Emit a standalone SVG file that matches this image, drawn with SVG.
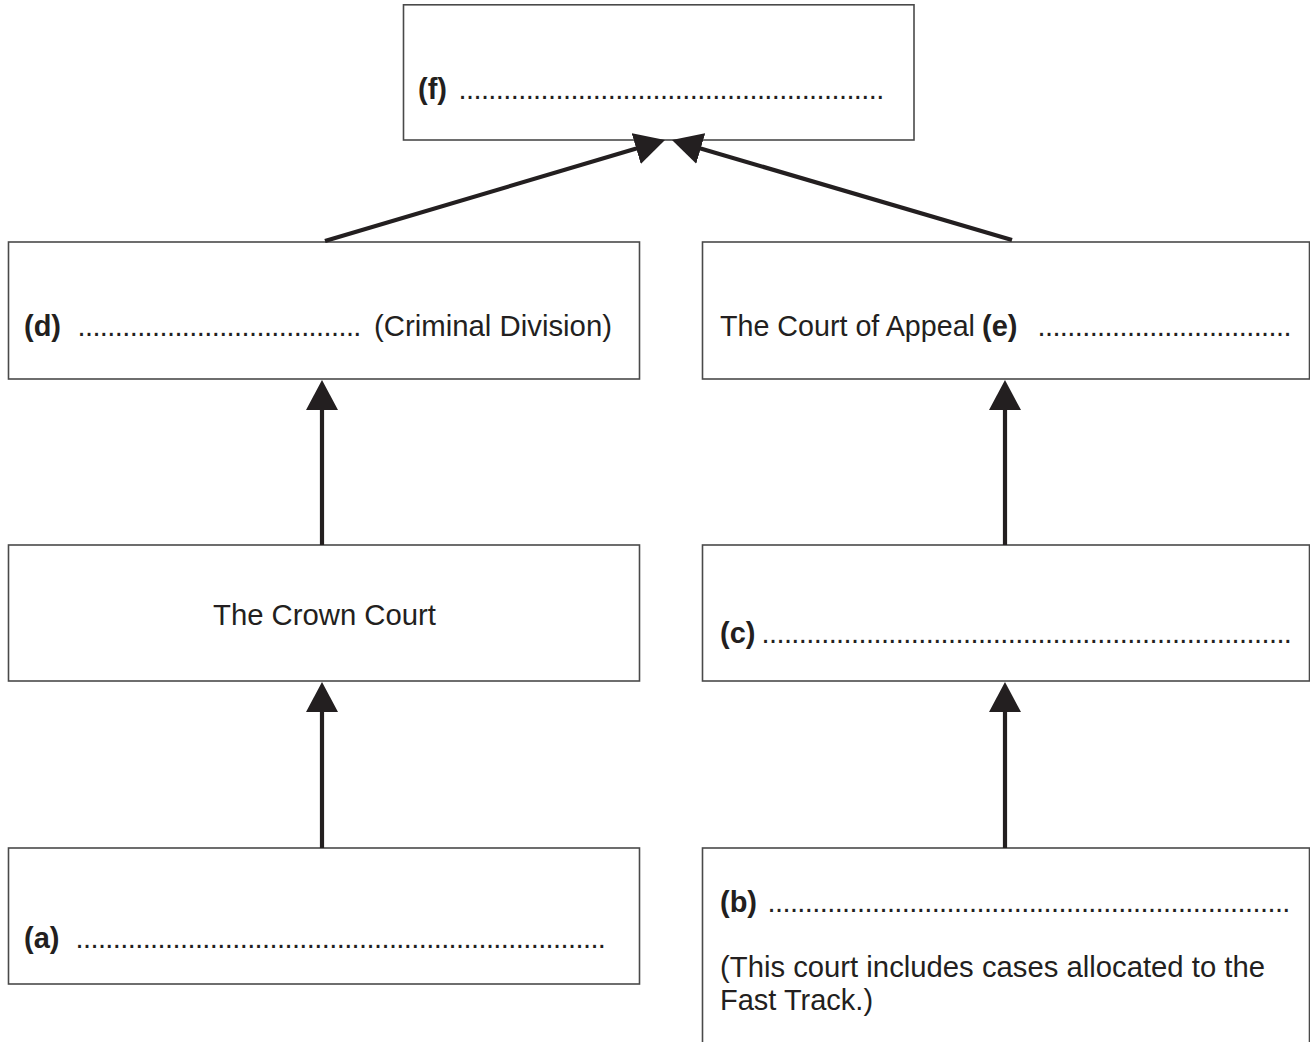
<svg xmlns="http://www.w3.org/2000/svg" width="1310" height="1042" viewBox="0 0 1310 1042">
<style>
.box{fill:#fff;stroke:#4a4a4a;stroke-width:1.6}
.t{font-family:"Liberation Sans",Arial,sans-serif;font-size:29px;fill:#231f20}
.b{font-weight:bold}
.d{font-family:"Liberation Sans",Arial,sans-serif;font-size:29px;fill:#231f20}
.arr{stroke:#231f20;stroke-width:4.2;fill:none;marker-end:url(#head)}
</style>
<defs>
<marker id="head" markerUnits="userSpaceOnUse" viewBox="0 0 30 32" refX="1" refY="16" markerWidth="30" markerHeight="32" orient="auto">
<path d="M0,0 L30,16 L0,32 Z" fill="#231f20"/>
</marker>
</defs>
<rect width="1310" height="1042" fill="#fff"/>
<g id="node-f">
<rect class="box" x="403.5" y="4.8" width="510.5" height="135.2"/>
<text class="t b" x="418" y="99">(f)</text>
<text class="d" x="458.5" y="99" textLength="425.8" lengthAdjust="spacing">.........................................................</text>
</g>
<g id="node-d">
<rect class="box" x="8.5" y="242" width="631" height="137"/>
<text class="t b" x="24" y="336">(d)</text>
<text class="d" x="77.5" y="336" textLength="283.9" lengthAdjust="spacing">......................................</text>
<text class="t" x="374" y="336" textLength="238" lengthAdjust="spacingAndGlyphs">(Criminal Division)</text>
</g>
<g id="node-e">
<rect class="box" x="702.5" y="242" width="607" height="137"/>
<text class="t" x="720" y="336" textLength="255" lengthAdjust="spacingAndGlyphs">The Court of Appeal</text>
<text class="t b" x="982" y="336">(e)</text>
<text class="d" x="1037.5" y="336" textLength="254" lengthAdjust="spacing">..................................</text>
</g>
<g id="node-crown">
<rect class="box" x="8.5" y="545" width="631" height="136"/>
<text class="t" x="213" y="625" textLength="223" lengthAdjust="spacingAndGlyphs">The Crown Court</text>
</g>
<g id="node-c">
<rect class="box" x="702.5" y="545" width="607" height="136"/>
<text class="t b" x="720" y="643">(c)</text>
<text class="d" x="761.5" y="643" textLength="530.4" lengthAdjust="spacing">.......................................................................</text>
</g>
<g id="node-a">
<rect class="box" x="8.5" y="848" width="631" height="136"/>
<text class="t b" x="24" y="948">(a)</text>
<text class="d" x="75.5" y="948" textLength="530.4" lengthAdjust="spacing">.......................................................................</text>
</g>
<g id="node-b">
<rect class="box" x="702.5" y="848" width="607" height="220"/>
<text class="t b" x="720" y="912">(b)</text>
<text class="d" x="767.5" y="912" textLength="522.9" lengthAdjust="spacing">......................................................................</text>
<text class="t" x="720" y="977" textLength="545" lengthAdjust="spacingAndGlyphs">(This court includes cases allocated to the</text>
<text class="t" x="720" y="1010">Fast Track.)</text>
</g>
<g id="connectors">
<line class="arr" x1="322" y1="545" x2="322" y2="409"/>
<line class="arr" x1="1005" y1="545" x2="1005" y2="409"/>
<line class="arr" x1="322" y1="848" x2="322" y2="711"/>
<line class="arr" x1="1005" y1="848" x2="1005" y2="711"/>
<line class="arr" x1="325" y1="241" x2="637.2" y2="148.3"/>
<line class="arr" x1="1012" y1="240" x2="699.8" y2="148.2"/>
</g>
</svg>
